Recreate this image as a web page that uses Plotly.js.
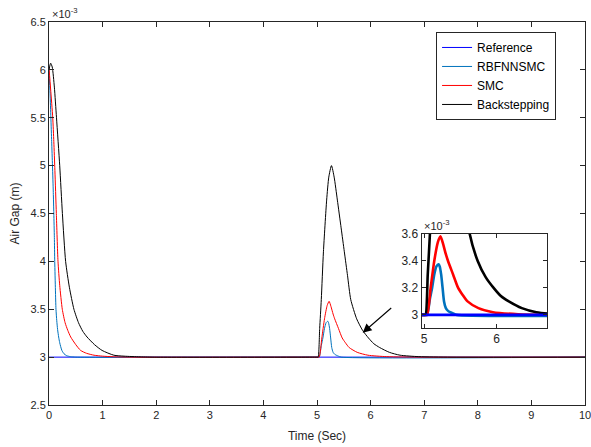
<!DOCTYPE html>
<html>
<head>
<meta charset="utf-8">
<script src="https://cdn.plot.ly/plotly-3.0.1.min.js"></script>
<style>html,body{margin:0;padding:0;background:#fff;}#chart{width:591px;height:447px;}</style>
</head>
<body>
<div id="chart"></div>
<script>
// Values in units of 1e-3 m
const tRef = [0, 10];
const yRef = [3, 3];

const tRbf = [0, 0.02, 0.035, 0.05, 0.065, 0.08, 0.09, 0.1, 0.107, 0.12, 0.13, 0.145, 0.16, 0.18, 0.2, 0.24, 0.28, 0.33, 0.4, 0.5,
  5.0, 5.04, 5.08, 5.11, 5.14, 5.17, 5.2, 5.215, 5.235, 5.255, 5.275, 5.3, 5.33, 5.36, 5.4, 5.45, 10];
const yRbf = [6.0, 5.75, 5.5, 5.25, 5.0, 4.72, 4.5, 4.25, 4.0, 3.7, 3.5, 3.38, 3.29, 3.21, 3.15, 3.07, 3.035, 3.015, 3.005, 3.0,
  3.0, 3.0, 3.12, 3.2, 3.3, 3.36, 3.375, 3.36, 3.3, 3.2, 3.1, 3.05, 3.03, 3.02, 3.01, 3.0, 3.0];

const tSmc = [0, 0.03, 0.07, 0.09, 0.11, 0.137, 0.168, 0.2, 0.248, 0.3, 0.35, 0.405, 0.5, 0.59, 0.7, 0.84, 1.0, 1.2, 1.5,
  5.0, 5.04, 5.09, 5.14, 5.19, 5.226, 5.26, 5.3, 5.33, 5.4, 5.47, 5.53, 5.6, 5.75, 5.95, 6.3, 7, 10];
const ySmc = [6.02, 5.8, 5.5, 5.25, 4.95, 4.5, 4.0, 3.75, 3.5, 3.36, 3.28, 3.21, 3.13, 3.07, 3.04, 3.02, 3.01, 3.004, 3.0,
  3.0, 3.0, 3.2, 3.4, 3.54, 3.583, 3.53, 3.45, 3.4, 3.3, 3.2, 3.15, 3.1, 3.05, 3.02, 3.005, 3.0, 3.0];

const tBs = [0, 0.03, 0.06, 0.1, 0.14, 0.2, 0.25, 0.31, 0.38, 0.465, 0.55, 0.63, 0.71, 0.85, 0.99, 1.21, 1.4, 1.7, 2.0,
  5.0, 5.02, 5.05, 5.08, 5.12, 5.18, 5.22, 5.27, 5.32, 5.38, 5.45, 5.51, 5.57, 5.63, 5.74, 5.85, 5.96, 6.06, 6.17, 6.35, 6.55, 6.9, 7.5, 10];
const yBs = [6.0, 6.07, 6.03, 5.82, 5.5, 5.0, 4.5, 4.0, 3.73, 3.5, 3.36, 3.27, 3.21, 3.13, 3.07, 3.02, 3.01, 3.003, 3.0,
  3.0, 3.0, 3.3, 3.6, 4.1, 4.64, 4.88, 5.0, 4.88, 4.64, 4.35, 4.1, 3.85, 3.6, 3.4, 3.28, 3.2, 3.14, 3.1, 3.05, 3.02, 3.005, 3.0, 3.0];

const seriesNames = ['Reference', 'RBFNNSMC', 'SMC', 'Backstepping'];
const colors = ['#0000FF', '#0072BD', '#FF0000', '#000000'];
const xs = [tRef, tRbf, tSmc, tBs];
const ys = [yRef, yRbf, ySmc, yBs];

const traces = [];
for (let i = 0; i < 4; i++) {
  traces.push({x: xs[i], y: ys[i], type: 'scatter', mode: 'lines', name: seriesNames[i],
    line: {color: colors[i], width: 1, shape: 'spline', smoothing: 0.6}, xaxis: 'x', yaxis: 'y'});
}
const insetOrder = [1, 2, 3, 0];
for (const i of insetOrder) {
  traces.push({x: xs[i], y: ys[i], type: 'scatter', mode: 'lines', name: seriesNames[i], showlegend: false,
    line: {color: colors[i], width: 2.6, shape: 'spline', smoothing: 0.6}, xaxis: 'x2', yaxis: 'y2'});
}

const axCol = '#262626';
const font = {family: 'Liberation Sans, Arial, sans-serif', size: 11, color: axCol};
const layout = {
  width: 591, height: 447,
  margin: {l: 49, r: 6, t: 22, b: 42},
  paper_bgcolor: '#fff', plot_bgcolor: '#fff',
  font: font,
  showlegend: true,
  legend: {x: 0.946, y: 0.974, xanchor: 'right', yanchor: 'top', bgcolor: '#fff',
    bordercolor: axCol, borderwidth: 1, font: {family: font.family, size: 12, color: '#000'},
    tracegroupgap: 0, itemwidth: 30},
  xaxis: {domain: [0, 1], range: [0, 10], dtick: 1, tick0: 0, ticks: 'inside', ticklen: 5,
    showline: true, mirror: 'ticks', linecolor: axCol, tickcolor: axCol, linewidth: 1,
    showgrid: false, zeroline: false, tickfont: font, ticklabeloverflow: 'allow',
    title: {text: 'Time (Sec)', font: {family: font.family, size: 12, color: axCol}, standoff: 11}},
  yaxis: {domain: [0, 1], range: [2.5, 6.5], dtick: 0.5, tick0: 2.5, ticks: 'inside', ticklen: 5,
    showline: true, mirror: 'ticks', linecolor: axCol, tickcolor: axCol, linewidth: 1,
    showgrid: false, zeroline: false, tickfont: font, ticklabeloverflow: 'allow',
    title: {text: 'Air Gap (m)', font: {family: font.family, size: 12, color: axCol}, standoff: 8}},
  xaxis2: {domain: [0.695, 0.930], anchor: 'y2', range: [4.964, 6.704], tickvals: [5, 6], ticks: 'inside', ticklen: 4,
    showline: true, mirror: 'ticks', linecolor: axCol, tickcolor: axCol, linewidth: 1,
    showgrid: false, zeroline: false, tickfont: {family: font.family, size: 12, color: axCol}},
  yaxis2: {domain: [0.2018, 0.4465], anchor: 'x2', range: [2.905, 3.6], tickvals: [3, 3.2, 3.4, 3.6], ticks: 'inside', ticklen: 4,
    showline: true, mirror: 'ticks', linecolor: axCol, tickcolor: axCol, linewidth: 1,
    showgrid: false, zeroline: false, tickfont: {family: font.family, size: 12, color: axCol}},
  annotations: [
    {xref: 'paper', yref: 'paper', x: 0.002, y: 1.0, xanchor: 'left', yanchor: 'bottom', showarrow: false,
      text: '×10<sup>-3</sup>', font: {family: font.family, size: 11, color: axCol}},
    {xref: 'x2 domain', yref: 'y2 domain', x: 0.0, y: 1.0, xanchor: 'left', yanchor: 'bottom', showarrow: false,
      text: '×10<sup>-3</sup>', font: {family: font.family, size: 11, color: axCol}},
    {xref: 'x', yref: 'y', x: 5.853, y: 3.255, ax: 30, ay: -26, text: '', showarrow: true,
      arrowhead: 2, arrowsize: 1.6, arrowwidth: 1.1, arrowcolor: '#000'}
  ]
};
Plotly.newPlot('chart', traces, layout, {displayModeBar: false, staticPlot: true});
</script>
</body>
</html>
